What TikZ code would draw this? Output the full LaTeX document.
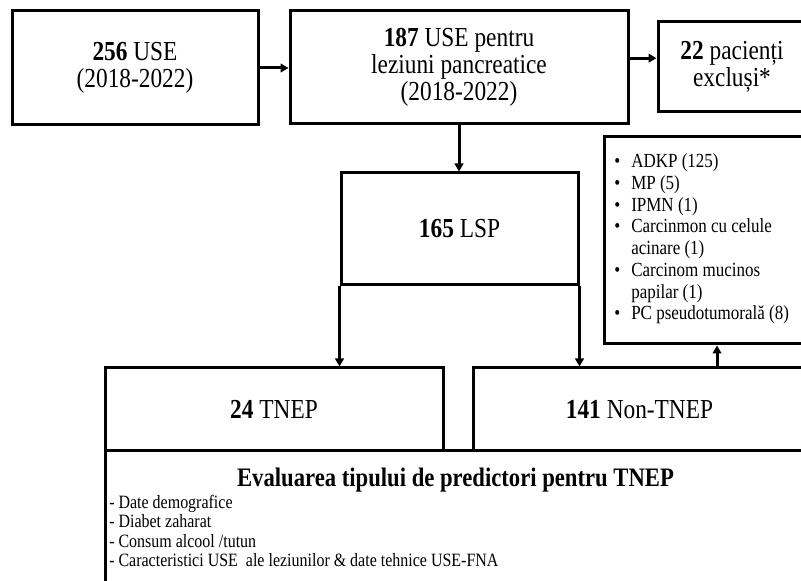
\documentclass[tikz,border=0pt]{standalone}
\usepackage{fontspec}
\setmainfont{Liberation Serif}[FakeStretch=0.85]
\usetikzlibrary{arrows.meta}

\begin{document}
\begin{tikzpicture}[x=0.75pt,y=0.75pt,yscale=-1,xscale=1,
  caseta/.style={draw, line width=2.25pt, align=center, inner sep=0pt,
    font=\fontsize{20.6}{20.25}\selectfont},
  sageata/.style={line width=2.25pt, -{Triangle[length=6pt,width=6.5pt]}}]
\useasboundingbox (0,0) rectangle (801,581);
\clip (0,0) rectangle (801,581);

%Shape: Rectangle [256 USE]
\node (use256) at (135,68) [caseta, minimum width=184.5pt, minimum height=85.5pt] {\textbf{256} USE\\(2018-2022)};
%Shape: Rectangle [187 USE]
\node (use187) at (459,67.5) [caseta, minimum width=253.5pt, minimum height=84.75pt] {\textbf{187} USE pentru\\leziuni pancreatice\\(2018-2022)};
%Shape: Rectangle [excluded]
\node (excl) at (732,67) [caseta, minimum width=111pt, minimum height=67.5pt] {\textbf{22} pacienți\\excluși*};
%Shape: Rectangle [165 LSP]
\node (lsp) at (459.5,229) [caseta, minimum width=177.75pt, minimum height=84pt] {\textbf{165} LSP};
%Shape: Rectangle [list]
\node (lista) at (705,240.5) [caseta, minimum width=151.5pt, minimum height=155.25pt] {};
%Shape: Rectangle [TNEP]
\node (tnep) at (274,409.5) [caseta, minimum width=253.5pt, minimum height=62.25pt] {\textbf{24} TNEP};
%Shape: Rectangle [Non-TNEP]
\node (nontnep) at (639.5,409.5) [caseta, minimum width=249.75pt, minimum height=62.25pt] {\textbf{141} Non-TNEP};
%Shape: Rectangle [evaluation]
\node (eval) at (455.5,526) [caseta, minimum width=525.75pt, minimum height=112.5pt] {};

% Text Node
\node (listatext) at (614,239) [anchor=west, inner sep=0pt, align=left, font=\fontsize{15}{16.3}\selectfont] {%
\makebox[12.75pt][l]{\textbullet}ADKP (125)\\
\makebox[12.75pt][l]{\textbullet}MP (5)\\
\makebox[12.75pt][l]{\textbullet}IPMN (1)\\
\makebox[12.75pt][l]{\textbullet}Carcinmon cu celule\\
\makebox[12.75pt][l]{}acinare (1)\\
\makebox[12.75pt][l]{\textbullet}Carcinom mucinos\\
\makebox[12.75pt][l]{}papilar (1)\\
\makebox[12.75pt][l]{\textbullet}PC pseudotumorală (8)};
% Text Node
\node (evaltitlu) at (455.5,480) [font=\bfseries\fontsize{20}{20}\selectfont] {Evaluarea tipului de predictori pentru TNEP};
% Text Node
\node (evallista) at (109,495) [anchor=north west, inner sep=0pt, align=left, font=\fontsize{14.1}{14.6}\selectfont] {- Date demografice\\- Diabet zaharat\\- Consum alcool /tutun\\- Caracteristici USE\ \ ale leziunilor \& date tehnice USE-FNA};

%Arrows
\coordinate (sus) at (717,0);
\draw[sageata] (use256.east) -- (use187.west |- use256.east);
\draw[sageata] ([yshift=-7pt]use187.east) -- ([yshift=-7pt]use187.east -| excl.west);
\draw[sageata] (use187.south) -- (use187.south |- lsp.north);
\draw[sageata] (lsp.south west) -- (lsp.south west |- tnep.north);
\draw[sageata] (lsp.south east) -- (lsp.south east |- nontnep.north);
\draw[sageata] (nontnep.north -| sus) -- (lista.south -| sus);
\end{tikzpicture}
\end{document}
